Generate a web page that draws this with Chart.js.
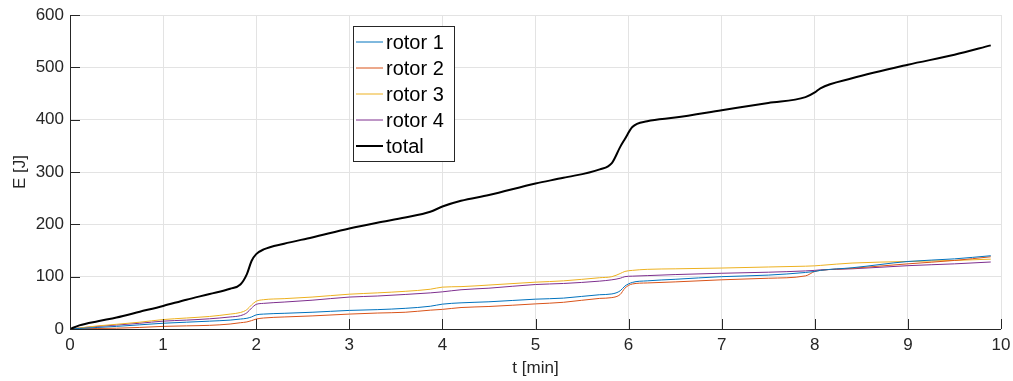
<!DOCTYPE html>
<html>
<head>
<meta charset="utf-8">
<script src="https://cdn.jsdelivr.net/npm/chart.js@4/dist/chart.umd.min.js"></script>
<style>
  html, body { margin: 0; padding: 0; background: #ffffff; }
  #wrap { width: 1013px; height: 381px; }
</style>
</head>
<body>
<div id="wrap"><canvas id="c" width="1013" height="381"></canvas></div>
<script>
// Sample times [min]
const times = [0, 0.1, 0.3, 0.5, 0.75, 1.0, 1.25, 1.5, 1.72, 1.83, 1.9, 1.95, 2.0, 2.08, 2.3, 2.6, 3.0, 3.3, 3.6, 3.87, 4.0, 4.2, 4.5, 5.0, 5.3, 5.69, 5.82, 5.91, 5.96, 6.04, 6.2, 6.5, 7.0, 7.5, 7.9, 8.0, 8.06, 8.4, 9.0, 9.5, 9.89];

// Cumulative energy per rotor [J]
const rotor1 = [0, 1, 3, 5, 8, 11, 13, 15, 17, 19, 20.5, 23, 27, 28.5, 30, 32, 35.5, 37, 39.5, 43.5, 47.5, 50, 52, 57, 59, 65.5, 67, 73, 82, 89, 92, 95, 100, 103, 108, 110, 112, 117, 129, 134, 140];
const rotor2 = [0, 0.5, 1, 1.5, 3, 5, 6, 7, 9.5, 12, 13.5, 16, 19, 21, 23, 25, 28.5, 30.5, 32, 36, 37.5, 41, 43, 48, 51, 58.5, 60, 66, 78, 86, 88, 90, 94, 97, 101.5, 110, 112, 116, 124.5, 131, 138];
const rotor3 = [0, 2, 6, 9, 13, 18, 21, 24, 28.5, 31.5, 37, 46, 53, 56, 58, 61, 66.5, 69, 72, 76, 80, 81, 84, 89.5, 92, 98, 100, 106, 110, 112, 114, 115, 116.5, 118.5, 120, 120.7, 121.5, 126, 129, 131, 133.5];
const rotor4 = [0, 2, 5, 7.5, 11, 15, 17, 19.5, 23, 25.5, 31, 40, 47, 49, 51.5, 55, 61, 63, 66, 69, 71, 75, 78, 85, 87, 91.5, 94, 97, 100, 101, 102, 104, 106.5, 108.5, 111, 112, 113, 115, 121, 124.5, 128];
const total  = [0, 7, 15, 22, 33, 44, 56, 67, 77, 85, 105, 130, 143, 152, 163, 175, 192, 203, 213, 224, 234, 245, 256, 278, 289, 305, 317, 348, 363, 386, 397, 404, 418, 432, 443, 452, 460, 479, 505, 524, 542];

const seriesNames = ['rotor 1', 'rotor 2', 'rotor 3', 'rotor 4', 'total'];
const xTicks = [0, 1, 2, 3, 4, 5, 6, 7, 8, 9, 10];
const yTicks = [0, 100, 200, 300, 400, 500, 600];

const FONT = '"Liberation Sans", Arial, Helvetica, sans-serif';
const AXIS_COLOR = '#262626';
const GRID_COLOR = '#e3e3e3';

const colors = ['#0072BD', '#D95319', '#EDB120', '#7E2F8E', '#000000'];
const widths = [1, 1, 1, 1, 2];
const values = [rotor1, rotor2, rotor3, rotor4, total];

const datasets = values.map((vals, i) => ({
  label: seriesNames[i],
  data: times.map((t, k) => ({ x: t, y: vals[k] })),
  borderColor: colors[i],
  backgroundColor: colors[i],
  borderWidth: widths[i],
  pointRadius: 0,
  fill: false,
  cubicInterpolationMode: 'monotone',
  order: i === 4 ? 0 : 1
}));

// Inward tick marks on the left and bottom axes
const innerTicks = {
  id: 'innerTicks',
  afterDatasetsDraw(chart) {
    const { ctx, chartArea: a, scales } = chart;
    ctx.save();
    ctx.strokeStyle = AXIS_COLOR;
    ctx.lineWidth = 1;
    ctx.beginPath();
    xTicks.forEach(v => {
      const px = Math.round(scales.x.getPixelForValue(v)) + 0.5;
      ctx.moveTo(px, a.bottom);
      ctx.lineTo(px, a.bottom - 10);
    });
    yTicks.forEach(v => {
      const py = Math.round(scales.y.getPixelForValue(v)) + 0.5;
      ctx.moveTo(a.left, py);
      ctx.lineTo(a.left + 10, py);
    });
    ctx.stroke();
    // axis lines
    ctx.beginPath();
    ctx.moveTo(Math.round(a.left) + 0.5, a.top);
    ctx.lineTo(Math.round(a.left) + 0.5, Math.round(a.bottom) + 0.5);
    ctx.lineTo(a.right, Math.round(a.bottom) + 0.5);
    ctx.stroke();
    ctx.restore();
  }
};

// Boxed legend placed inside the plot area
const boxLegend = {
  id: 'boxLegend',
  afterDraw(chart) {
    const { ctx, chartArea: a } = chart;
    const x0 = a.left + 283, y0 = a.top + 11;
    const w = 101, rowH = 26, h = 135;
    ctx.save();
    ctx.fillStyle = '#ffffff';
    ctx.fillRect(x0, y0, w, h);
    ctx.strokeStyle = '#262626';
    ctx.lineWidth = 1;
    ctx.strokeRect(Math.round(x0) + 0.5, Math.round(y0) + 0.5, w, h);
    ctx.font = '20px ' + FONT;
    ctx.textBaseline = 'middle';
    ctx.textAlign = 'left';
    chart.data.datasets.forEach((ds, i) => {
      const cy = y0 + 16 + i * rowH;
      ctx.strokeStyle = ds.borderColor;
      ctx.lineWidth = ds.borderWidth;
      ctx.beginPath();
      ctx.moveTo(x0 + 3, cy);
      ctx.lineTo(x0 + 30, cy);
      ctx.stroke();
      ctx.fillStyle = '#000000';
      ctx.fillText(ds.label, x0 + 33, cy + 1);
    });
    ctx.restore();
  }
};

new Chart(document.getElementById('c'), {
  type: 'line',
  data: { datasets },
  options: {
    responsive: false,
    animation: false,
    layout: { padding: { top: 15, right: 12, left: 0, bottom: 0 } },
    plugins: { legend: { display: false }, tooltip: { enabled: false } },
    scales: {
      x: {
        type: 'linear',
        min: 0, max: 10,
        afterBuildTicks: s => { s.ticks = xTicks.map(v => ({ value: v })); },
        afterFit: s => { s.height = 52; s.paddingRight = 0; s.paddingLeft = 0; },
        grid: { color: GRID_COLOR, drawTicks: false, lineWidth: 1 },
        border: { display: false },
        ticks: { color: AXIS_COLOR, font: { family: FONT, size: 17 }, padding: 6, maxRotation: 0 },
        title: { display: true, text: 't [min]', color: AXIS_COLOR, font: { family: FONT, size: 17 }, padding: { top: 0, bottom: 2 } }
      },
      y: {
        min: 0, max: 600,
        afterBuildTicks: s => { s.ticks = yTicks.map(v => ({ value: v })); },
        afterFit: s => { s.width = 70; s.paddingTop = 0; s.paddingBottom = 0; },
        grid: { color: GRID_COLOR, drawTicks: false, lineWidth: 1 },
        border: { display: false },
        ticks: { color: AXIS_COLOR, font: { family: FONT, size: 17 }, padding: 6 },
        title: { display: true, text: 'E [J]', color: AXIS_COLOR, font: { family: FONT, size: 17 }, padding: { top: 10, bottom: 0 } }
      }
    }
  },
  plugins: [innerTicks, boxLegend]
});
</script>
</body>
</html>
